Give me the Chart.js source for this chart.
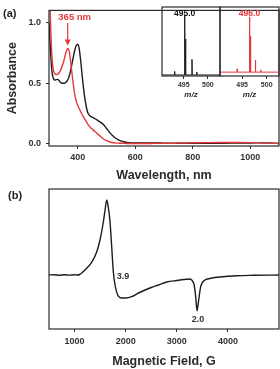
<!DOCTYPE html>
<html>
<head>
<meta charset="utf-8">
<script src="https://cdn.jsdelivr.net/npm/chart.js@4.4.1/dist/chart.umd.min.js"></script>
<style>
  html, body { margin: 0; padding: 0; background: #fff; }
  body { width: 280px; height: 369px; position: relative; overflow: hidden; }
  canvas { position: absolute; }
</style>
</head>
<body>
<canvas id="chart_uv" width="280" height="190" style="left:0;top:0;width:280px;height:190px"></canvas>
<canvas id="chart_ms_black" width="62" height="95" style="left:160px;top:5px;width:62px;height:95px"></canvas>
<canvas id="chart_ms_red" width="62" height="95" style="left:218px;top:5px;width:62px;height:95px"></canvas>
<canvas id="chart_epr" width="280" height="184" style="left:0;top:185px;width:280px;height:184px"></canvas>
<script>
// UV-vis spectra (panel a)
const uvWavelength = [300, 305, 310, 315, 320, 325, 330, 335, 340, 345, 350, 355, 360, 365, 370, 375, 380, 385, 390, 395,
  400, 405, 410, 415, 420, 425, 430, 435, 440, 445, 450, 460, 470, 480, 490, 500, 510, 520, 530, 540,
  550, 560, 570, 580, 600, 650, 700, 750, 800, 850, 900, 950, 1000, 1050, 1100];
const uvBlack = [1.00, 0.78, 0.60, 0.54, 0.525, 0.528, 0.53, 0.52, 0.505, 0.50, 0.498, 0.50, 0.508, 0.525, 0.555, 0.60, 0.66, 0.72, 0.775, 0.81,
  0.82, 0.785, 0.69, 0.57, 0.46, 0.37, 0.30, 0.255, 0.235, 0.225, 0.218, 0.205, 0.19, 0.175, 0.155, 0.125, 0.095, 0.068, 0.048, 0.033,
  0.022, 0.015, 0.01, 0.008, 0.006, 0.005, 0.004, 0.003, 0.003, 0.003, 0.003, 0.004, 0.005, 0.006, 0.002];
const uvRed = [1.45, 1.02, 0.72, 0.61, 0.578, 0.57, 0.572, 0.585, 0.605, 0.635, 0.67, 0.715, 0.76, 0.785, 0.765, 0.68, 0.58, 0.48, 0.40, 0.35,
  0.315, 0.29, 0.265, 0.24, 0.22, 0.20, 0.18, 0.16, 0.145, 0.13, 0.12, 0.10, 0.078, 0.057, 0.038, 0.024, 0.015, 0.009, 0.006, 0.004,
  0.003, 0.002, 0.001, 0.001, 0.0, 0.001, 0.002, 0.004, 0.006, 0.008, 0.009, 0.009, 0.008, 0.004, 0.001];
const uvTicksX = [400, 600, 800, 1000];
const uvTicksY = [0, 0.5, 1.0];

// mass spectra insets
const msRange = [490.5, 502.5];
const msTicks = [495, 500];
const msBlackMz = [493.1, 495.2, 495.4, 496.7, 497.7];
const msBlackInt = [0.06, 1.0, 0.6, 0.26, 0.05];
const msRedMz = [494.0, 496.5, 496.7, 497.7, 498.8];
const msRedInt = [0.06, 1.0, 0.65, 0.22, 0.04];

// EPR spectrum (panel b)
const eprField = [500, 600, 700, 800, 900, 1000, 1050, 1100, 1150, 1237, 1335, 1433, 1498, 1563, 1600, 1629, 1660, 1694, 1727, 1759,
  1792, 1844, 1922, 2000, 2118, 2250, 2379, 2500, 2640, 2803, 3000, 3194, 3259, 3300, 3340, 3370, 3396, 3410, 3429, 3468,
  3553, 3650, 3781, 4000, 4172, 4500, 5000];
const eprSignal = [0, 0.3, -0.2, 0.2, -0.1, 0.2, 0, 0.5, 2.5, 6.7, 12.7, 23, 35, 53, 66, 75, 68, 53, 28, 3,
  -10, -20, -23, -23, -21.7, -18, -15, -12.5, -10, -7, -5.5, -4.3, -4, -5.5, -10, -21.7, -35.7, -32, -25, -11.7,
  -5, -3.5, -2.3, -1.3, -0.7, -0.3, 0];
const eprTicksX = [1000, 2000, 3000, 4000];

const FONT = '"Liberation Sans", Arial, sans-serif';
const AXIS_COLOR = '#2b2b2b';
const TICK_COLOR = '#333';
const RED = '#e5393a';
const BLACK = '#1c1c1c';

const framePlugin = {
  id: 'frame',
  afterDraw(chart) {
    const { ctx, chartArea: a } = chart;
    ctx.save();
    ctx.strokeStyle = AXIS_COLOR;
    ctx.lineWidth = 1.2;
    ctx.strokeRect(a.left, a.top, a.right - a.left, a.bottom - a.top);
    ctx.restore();
  }
};

const toPoints = (xs, ys) => xs.map((x, i) => ({ x, y: ys[i] }));

const stickPoints = (mz, inten) => {
  const pts = [{ x: msRange[0], y: 0 }];
  mz.forEach((m, i) => {
    pts.push({ x: m - 0.06, y: 0 }, { x: m, y: inten[i] }, { x: m + 0.06, y: 0 });
  });
  pts.push({ x: msRange[1], y: 0 });
  return pts;
};

const tickFont = (size) => ({ family: FONT, size, weight: 'bold' });

const baseOptions = () => ({
  responsive: false,
  animation: false,
  events: [],
  plugins: { legend: { display: false }, tooltip: { enabled: false } },
  elements: { point: { radius: 0 } }
});

const xScale = (min, max, ticks, height, fontSize, pad, title, titleSize, titlePad, titleItalic) => ({
  type: 'linear', min, max,
  afterBuildTicks: (s) => { s.ticks = ticks.map(v => ({ value: v })); },
  afterFit: (s) => { s.height = height; },
  grid: { drawOnChartArea: false, tickLength: 3, color: AXIS_COLOR, lineWidth: 1 },
  border: { display: false },
  ticks: { padding: pad, color: TICK_COLOR, font: tickFont(fontSize), maxRotation: 0, autoSkip: false, callback: v => String(v) },
  title: {
    display: true, text: title, color: AXIS_COLOR,
    font: { family: FONT, size: titleSize, weight: 'bold', style: titleItalic ? 'italic' : 'normal' },
    padding: { top: 0, bottom: titlePad }
  }
});

// panel (a) main
const uvOptions = baseOptions();
uvOptions.layout = { padding: { left: 0, top: 7, right: 1, bottom: 0 } };
uvOptions.scales = {
  x: xScale(300, 1100, uvTicksX, 44, 9, 3, 'Wavelength, nm', 12.5, 7, false),
  y: {
    type: 'linear', min: -0.02, max: 1.1,
    afterBuildTicks: (s) => { s.ticks = uvTicksY.map(v => ({ value: v })); },
    afterFit: (s) => { s.width = 49; },
    grid: { drawOnChartArea: false, tickLength: 3, color: AXIS_COLOR, lineWidth: 1 },
    border: { display: false },
    ticks: { padding: 5, color: TICK_COLOR, font: tickFont(9), callback: v => Number(v).toFixed(1) },
    title: {
      display: true, text: 'Absorbance', color: AXIS_COLOR,
      font: { family: FONT, size: 12.5, weight: 'bold' },
      padding: { top: 5.5, bottom: 0 }
    }
  }
};

const uvNotes = {
  id: 'uvNotes',
  afterDraw(chart) {
    const { ctx } = chart;
    const xs = chart.scales.x, ys = chart.scales.y;
    ctx.save();
    ctx.fillStyle = '#222';
    ctx.font = 'bold 11px ' + FONT;
    ctx.textBaseline = 'middle';
    ctx.textAlign = 'left';
    ctx.fillText('(a)', 3, 14);

    const px = xs.getPixelForValue(365);
    const tip = ys.getPixelForValue(0.81);
    ctx.fillStyle = RED;
    ctx.strokeStyle = RED;
    ctx.font = 'bold 9.5px ' + FONT;
    ctx.textAlign = 'center';
    ctx.fillText('365 nm', px + 7, 17);
    ctx.lineWidth = 1.2;
    ctx.beginPath();
    ctx.moveTo(px, 23);
    ctx.lineTo(px, tip - 4);
    ctx.stroke();
    ctx.beginPath();
    ctx.moveTo(px - 3, tip - 6);
    ctx.lineTo(px + 3, tip - 6);
    ctx.lineTo(px, tip);
    ctx.closePath();
    ctx.fill();
    ctx.restore();
  }
};

new Chart(document.getElementById('chart_uv'), {
  type: 'line',
  data: {
    datasets: [
      { data: toPoints(uvWavelength, uvRed), borderColor: RED, borderWidth: 1.4, tension: 0.4, cubicInterpolationMode: 'monotone' },
      { data: toPoints(uvWavelength, uvBlack), borderColor: BLACK, borderWidth: 1.4, tension: 0.4, cubicInterpolationMode: 'monotone' }
    ]
  },
  options: uvOptions,
  plugins: [framePlugin, uvNotes]
});

// insets
const makeInset = (id, mz, inten, color, label, yMin, yMax, padRight) => {
  const opts = baseOptions();
  opts.layout = { padding: { left: 2, top: 2, right: padRight, bottom: 0 } };
  opts.scales = {
    x: xScale(msRange[0], msRange[1], msTicks, 24, 7, 2, 'm/z', 8, 0, true),
    y: { type: 'linear', min: yMin, max: yMax, display: false }
  };
  const notes = {
    id: 'msNote',
    afterDraw(chart) {
      const { ctx } = chart;
      ctx.save();
      ctx.fillStyle = color === RED ? RED : '#111';
      ctx.font = 'bold 8.5px ' + FONT;
      ctx.textAlign = 'center';
      ctx.textBaseline = 'middle';
      ctx.fillText(label, chart.scales.x.getPixelForValue(mz[inten.indexOf(1.0)]), chart.chartArea.top + 7);
      ctx.restore();
    }
  };
  new Chart(document.getElementById(id), {
    type: 'line',
    data: { datasets: [{ data: stickPoints(mz, inten), borderColor: color, borderWidth: 1, tension: 0 }] },
    options: opts,
    plugins: [framePlugin, notes]
  });
};
makeInset('chart_ms_black', msBlackMz, msBlackInt, BLACK, '495.0', -0.017, 1.133, 2);
makeInset('chart_ms_red', msRedMz, msRedInt, RED, '496.0', -0.07, 1.18, 1);

// panel (b)
const eprOptions = baseOptions();
eprOptions.layout = { padding: { left: 49, top: 4, right: 1, bottom: 0 } };
eprOptions.scales = {
  x: xScale(500, 5000, eprTicksX, 40, 9, 4, 'Magnetic Field, G', 12.5, 0, false),
  y: { type: 'linear', min: -54, max: 86, display: false }
};
const eprNotes = {
  id: 'eprNotes',
  afterDraw(chart) {
    const { ctx } = chart;
    const xs = chart.scales.x, ys = chart.scales.y;
    ctx.save();
    ctx.fillStyle = '#222';
    ctx.font = 'bold 11px ' + FONT;
    ctx.textBaseline = 'middle';
    ctx.textAlign = 'left';
    ctx.fillText('(b)', 8, 11);
    ctx.fillStyle = '#333';
    ctx.font = 'bold 9px ' + FONT;
    ctx.textAlign = 'center';
    ctx.fillText('3.9', xs.getPixelForValue(1950), ys.getPixelForValue(-2));
    ctx.fillText('2.0', xs.getPixelForValue(3416), ys.getPixelForValue(-45));
    ctx.restore();
  }
};
new Chart(document.getElementById('chart_epr'), {
  type: 'line',
  data: {
    datasets: [{ data: toPoints(eprField, eprSignal), borderColor: BLACK, borderWidth: 1.4, tension: 0.4, cubicInterpolationMode: 'monotone' }]
  },
  options: eprOptions,
  plugins: [framePlugin, eprNotes]
});
</script>
</body>
</html>
